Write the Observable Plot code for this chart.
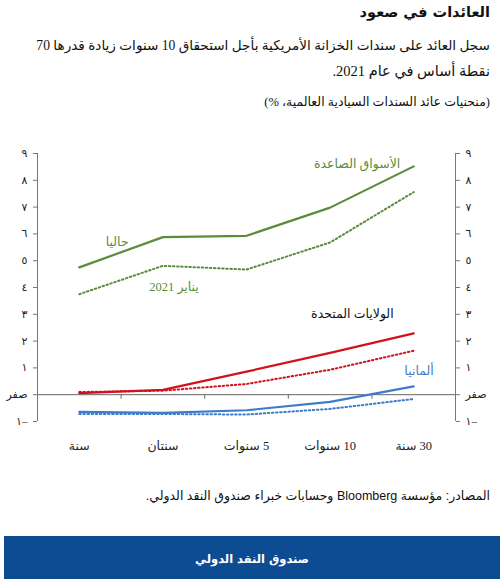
<!DOCTYPE html>
<html lang="ar">
<head>
<meta charset="utf-8">
<script src="https://cdn.jsdelivr.net/npm/d3@7"></script>
<script src="https://cdn.jsdelivr.net/npm/@observablehq/plot@0.6"></script>
<style>
  html, body { margin: 0; padding: 0; background: #fff; }
  body { width: 500px; height: 579px; position: relative; overflow: hidden; font-family: "Liberation Serif", "DejaVu Sans", serif; }
  .t { position: absolute; right: 10px; direction: rtl; text-align: right; white-space: nowrap; color: #111; }
  #title { top: 4px; font-family: "DejaVu Sans", sans-serif; font-weight: bold; font-size: 14.5px; }
  #sub1 { top: 37px; font-size: 13.6px; }
  #sub2 { top: 63px; font-size: 14.5px; }
  #sub3 { top: 94px; font-size: 12.5px; }
  #chart { position: absolute; left: 0; top: 130px; }
  #source { position: absolute; right: 10px; top: 488px; direction: rtl; font-family: "Liberation Sans", "DejaVu Sans", sans-serif; font-size: 12.5px; color: #111; white-space: nowrap; }
  #footer { position: absolute; left: 4px; top: 536px; width: 496px; height: 43px; background: #0d4c93; color: #fff; font-family: "DejaVu Sans", sans-serif; font-weight: bold; font-size: 11.5px; text-align: center; line-height: 46px; direction: rtl; }
</style>
</head>
<body>
<div class="t" id="title">العائدات في صعود</div>
<div class="t" id="sub1">سجل العائد على سندات الخزانة الأمريكية بأجل استحقاق 10 سنوات زيادة قدرها 70</div>
<div class="t" id="sub2">نقطة أساس في عام 2021.</div>
<div class="t" id="sub3">(منحنيات عائد السندات السيادية العالمية، %)</div>
<div id="chart"></div>
<div id="source">المصادر: مؤسسة Bloomberg وحسابات خبراء صندوق النقد الدولي.</div>
<div id="footer">صندوق النقد الدولي</div>
<script>
// Maturities (x categories)
const maturities = ["سنة", "سنتان", "5 سنوات", "10 سنوات", "30 سنة"];

// Yields (%) — current and January 2021
const emCurrent = [4.75, 5.88, 5.93, 6.98, 8.52];
const emJan2021 = [3.75, 4.81, 4.67, 5.68, 7.56];
const usCurrent = [0.06, 0.18, 0.86, 1.56, 2.29];
const usJan2021 = [0.10, 0.15, 0.40, 0.93, 1.64];
const deCurrent = [-0.64, -0.68, -0.58, -0.27, 0.31];
const deJan2021 = [-0.72, -0.72, -0.74, -0.53, -0.16];

// Y ticks and labels
const yTicks = [-1, 0, 1, 2, 3, 4, 5, 6, 7, 8, 9];
const yTickLabels = ["١–", "صفر", "١", "٢", "٣", "٤", "٥", "٦", "٧", "٨", "٩"];

// Series annotations
const labelText = ["الأسواق الصاعدة", "حاليا", "يناير 2021", "الولايات المتحدة", "ألمانيا"];
const labelX = [4.34, 1.09, 1.93, 4.26, 4.74];
const labelY = [8.62, 5.69, 4.01, 3.01, 0.89];
const labelColor = ["#5b8c3b", "#5b8c3b", "#5b8c3b", "#111111", "#3d7cc9"];

const seriesDefs = [
  {name: "em", period: "current", values: emCurrent, color: "#5b8c3b"},
  {name: "em", period: "jan2021", values: emJan2021, color: "#5b8c3b"},
  {name: "us", period: "current", values: usCurrent, color: "#d4111a"},
  {name: "us", period: "jan2021", values: usJan2021, color: "#d4111a"},
  {name: "de", period: "current", values: deCurrent, color: "#3d7cc9"},
  {name: "de", period: "jan2021", values: deJan2021, color: "#3d7cc9"}
];

const rows = s => s.values.map((v, i) => ({x: i + 0.5, y: v}));
const boundaries = maturities.slice(1).map((_, i) => i + 1);
const labels = labelText.map((t, i) => ({t, x: labelX[i], y: labelY[i], c: labelColor[i]}));
const fmt = d => yTickLabels[yTicks.indexOf(d)];
const RLM = "\u200F";

const marks = [
  Plot.ruleY([0], {stroke: "#666", strokeWidth: 1}),
  Plot.ruleX([0, maturities.length], {y1: -1, y2: 9, stroke: "#777", strokeWidth: 1}),
  Plot.ruleX(boundaries, {y1: 0, y2: -0.17, stroke: "#666", strokeWidth: 1}),
  Plot.axisY({anchor: "left", ticks: yTicks, tickFormat: fmt, tickSize: 4, tickPadding: 6, stroke: "#777", color: "#222", fontSize: 11, label: null}),
  Plot.axisY({anchor: "right", ticks: yTicks, tickFormat: fmt, tickSize: 4, tickPadding: 6, stroke: "#777", color: "#222", fontSize: 11, label: null}),
  Plot.axisX({ticks: maturities.map((_, i) => i + 0.5), tickFormat: d => RLM + maturities[Math.round(d - 0.5)], tickSize: 0, tickPadding: 20, fontSize: 12.5, color: "#222", label: null})
];

for (const s of seriesDefs) {
  const dotted = s.period === "jan2021";
  marks.push(Plot.line(rows(s), {
    x: "x", y: "y", stroke: s.color, strokeWidth: dotted ? 2 : 2.2,
    strokeDasharray: dotted ? "1.5,2.6" : null, curve: "linear"
  }));
}

marks.push(Plot.text(labels, {x: "x", y: "y", text: "t", fill: "c", textAnchor: "end", fontSize: 12.5}));

const chart = Plot.plot({
  width: 500,
  height: 330,
  marginLeft: 37,
  marginRight: 45,
  marginTop: 23,
  marginBottom: 39,
  style: {fontFamily: "'Liberation Serif', 'DejaVu Sans', serif", background: "transparent"},
  x: {type: "linear", domain: [0, maturities.length]},
  y: {domain: [-1, 9]},
  marks
});
document.getElementById("chart").appendChild(chart);
</script>
</body>
</html>
